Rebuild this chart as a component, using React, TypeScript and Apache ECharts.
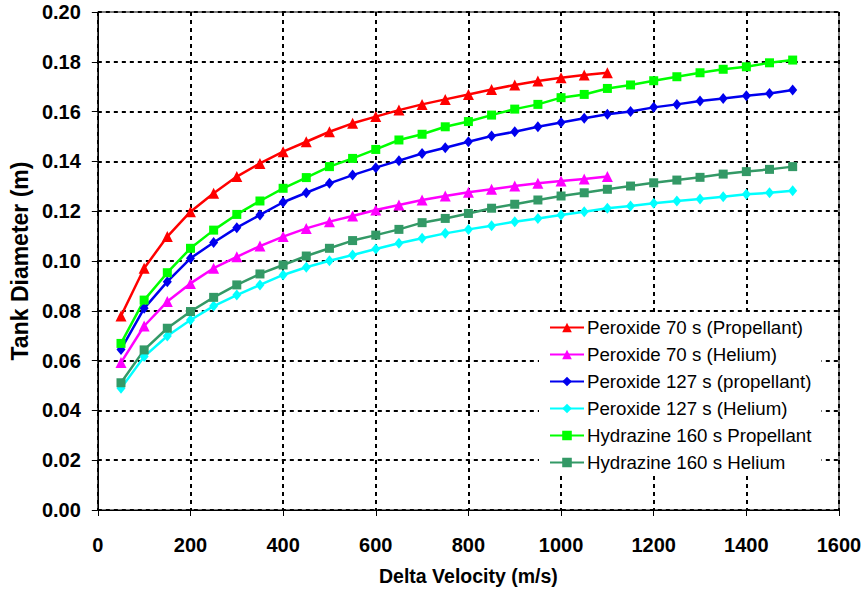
import React, { useEffect, useRef } from "react";
import * as echarts from "echarts";

const velocityShort = [50, 100, 150, 200, 250, 300, 350, 400, 450, 500, 550, 600, 650, 700, 750, 800, 850, 900, 950, 1000, 1050, 1100];
const velocityLong = [50, 100, 150, 200, 250, 300, 350, 400, 450, 500, 550, 600, 650, 700, 750, 800, 850, 900, 950, 1000, 1050, 1100, 1150, 1200, 1250, 1300, 1350, 1400, 1450, 1500];

const peroxide70Prop = [0.0779, 0.0971, 0.1098, 0.1198, 0.1272, 0.1339, 0.1392, 0.1439, 0.1479, 0.1519, 0.1553, 0.1580, 0.1606, 0.1629, 0.1649, 0.1669, 0.1689, 0.1707, 0.1723, 0.1736, 0.1747, 0.1756];
const peroxide70He = [0.0592, 0.0739, 0.0837, 0.0910, 0.0971, 0.1017, 0.1060, 0.1098, 0.1131, 0.1158, 0.1181, 0.1205, 0.1225, 0.1245, 0.1261, 0.1276, 0.1288, 0.1301, 0.1312, 0.1321, 0.1329, 0.1339];
const peroxide127Prop = [0.0645, 0.0810, 0.0917, 0.1011, 0.1074, 0.1134, 0.1185, 0.1236, 0.1274, 0.1312, 0.1345, 0.1375, 0.1403, 0.1432, 0.1455, 0.1479, 0.1502, 0.1519, 0.1539, 0.1556, 0.1573, 0.1589, 0.1600, 0.1617, 0.1629, 0.1643, 0.1653, 0.1664, 0.1673, 0.1687];
const peroxide127He = [0.0489, 0.0616, 0.0699, 0.0763, 0.0819, 0.0863, 0.0904, 0.0944, 0.0975, 0.1001, 0.1024, 0.1048, 0.1071, 0.1091, 0.1111, 0.1127, 0.1142, 0.1158, 0.1171, 0.1185, 0.1198, 0.1212, 0.1221, 0.1232, 0.1241, 0.1249, 0.1258, 0.1268, 0.1274, 0.1282];
const hydrazineProp = [0.0669, 0.0843, 0.0953, 0.1051, 0.1124, 0.1187, 0.1241, 0.1292, 0.1335, 0.1379, 0.1412, 0.1448, 0.1486, 0.1509, 0.1539, 0.1560, 0.1586, 0.1610, 0.1629, 0.1656, 0.1669, 0.1693, 0.1707, 0.1724, 0.1740, 0.1756, 0.1770, 0.1780, 0.1796, 0.1807];
const hydrazineHe = [0.0511, 0.0643, 0.0730, 0.0797, 0.0854, 0.0904, 0.0948, 0.0984, 0.1020, 0.1051, 0.1082, 0.1104, 0.1127, 0.1154, 0.1171, 0.1191, 0.1212, 0.1228, 0.1245, 0.1261, 0.1274, 0.1288, 0.1301, 0.1314, 0.1325, 0.1336, 0.1349, 0.1359, 0.1368, 0.1379];

const seriesNames = [
  "Peroxide 70 s (Propellant)",
  "Peroxide 70 s (Helium)",
  "Peroxide 127 s (propellant)",
  "Peroxide 127 s (Helium)",
  "Hydrazine 160 s Propellant",
  "Hydrazine 160 s Helium",
];

const FONT = "'Liberation Sans', Arial, sans-serif";

function pairs(xs: number[], ys: number[]) {
  return ys.map((y, i) => [xs[i], y]);
}

export default function App() {
  const ref = useRef<HTMLDivElement>(null);
  useEffect(() => {
    if (!ref.current) return;
    const chart = echarts.init(ref.current, undefined, { renderer: "svg" });
    const mk = (name: string, color: string, xs: number[], ys: number[], symbol: string, size: any) => ({
      name,
      type: "line",
      data: pairs(xs, ys),
      symbol,
      symbolSize: size,
      showSymbol: true,
      lineStyle: { color, width: 2.5 },
      itemStyle: { color, borderWidth: 0 },
      emphasis: { disabled: true },
    });
    chart.setOption({
      animation: false,
      backgroundColor: "#ffffff",
      textStyle: { fontFamily: FONT },
      grid: {
        left: 97,
        right: 26,
        top: 12,
        bottom: 84,
        show: true,
        borderColor: "#000",
        borderWidth: 1,
        backgroundColor: "transparent",
      },
      legend: {
        orient: "vertical",
        left: 539,
        top: 313,
        padding: [5, 10, 3, 10],
        backgroundColor: "#ffffff",
        itemWidth: 34,
        itemHeight: 12,
        itemGap: 8,
        textStyle: { fontFamily: FONT, fontSize: 18.7, color: "#000", lineHeight: 19, padding: [0, 0, 0, -2] },
        data: seriesNames,
      },
      xAxis: {
        type: "value",
        min: 0,
        max: 1600,
        interval: 200,
        name: "Delta Velocity (m/s)",
        nameLocation: "middle",
        nameGap: 56,
        nameTextStyle: { fontFamily: FONT, fontSize: 19.5, fontWeight: "bold", color: "#000" },
        axisLine: { show: true, lineStyle: { color: "#000", width: 1 } },
        axisTick: { show: true, inside: false, length: 6, lineStyle: { color: "#000" } },
        axisLabel: {
          margin: 25,
          fontFamily: FONT,
          fontSize: 20,
          fontWeight: "bold",
          color: "#000",
          formatter: (v: number) => String(v),
        },
        splitLine: { show: true, lineStyle: { color: "#000", type: [4, 4], width: 2 } },
      },
      yAxis: {
        type: "value",
        min: 0,
        max: 0.2,
        interval: 0.02,
        name: "Tank Diameter (m)",
        nameLocation: "middle",
        nameGap: 66,
        nameTextStyle: { fontFamily: FONT, fontSize: 23, fontWeight: "bold", color: "#000" },
        axisLine: { show: true, lineStyle: { color: "#000", width: 1 } },
        axisTick: { show: true, inside: false, length: 6, lineStyle: { color: "#000" } },
        axisLabel: {
          margin: 17,
          fontFamily: FONT,
          fontSize: 20,
          fontWeight: "bold",
          color: "#000",
          formatter: (v: number) => v.toFixed(2),
        },
        splitLine: { show: true, lineStyle: { color: "#000", type: [4, 4], width: 2 } },
      },
      series: [
        mk(seriesNames[0], "#ff0000", velocityShort, peroxide70Prop, "triangle", 11),
        mk(seriesNames[1], "#ff00ff", velocityShort, peroxide70He, "triangle", 11),
        mk(seriesNames[2], "#0000ee", velocityLong, peroxide127Prop, "diamond", [9, 11]),
        mk(seriesNames[3], "#00ffff", velocityLong, peroxide127He, "diamond", [9, 11]),
        mk(seriesNames[4], "#00ff00", velocityLong, hydrazineProp, "rect", 9),
        mk(seriesNames[5], "#339966", velocityLong, hydrazineHe, "rect", 9),
      ],
    });
    return () => chart.dispose();
  }, []);
  return <div ref={ref} style={{ width: 865, height: 594, position: "absolute", left: 0, top: 0 }} />;
}
